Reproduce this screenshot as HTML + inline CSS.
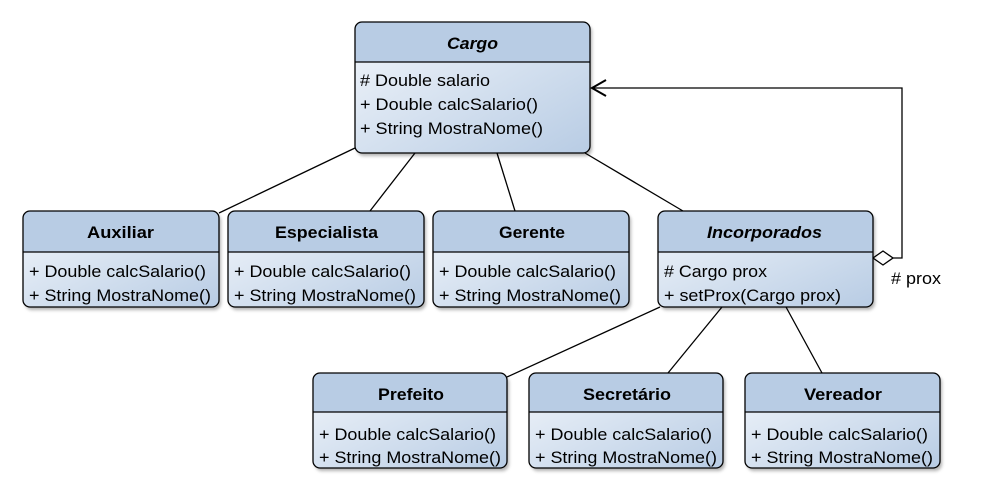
<!DOCTYPE html>
<html><head><meta charset="utf-8"><style>
body{margin:0;background:#fff}
svg{display:block;font-family:"Liberation Sans",Arial,sans-serif}
</style></head><body>
<svg width="1000" height="492" viewBox="0 0 1000 492" xmlns="http://www.w3.org/2000/svg">
<defs>
<linearGradient id="g" x1="0" y1="0" x2="1" y2="1">
<stop offset="0" stop-color="#f2f6fb"/><stop offset="1" stop-color="#b8cce4"/>
</linearGradient>
<filter id="s" x="-5%" y="-5%" width="115%" height="120%"><feDropShadow dx="2" dy="3" stdDeviation="1.5" flood-color="#000" flood-opacity="0.3"/></filter>
</defs>
<g stroke="#000" stroke-width="1.3" fill="none">
<line x1="355" y1="148" x2="219" y2="213"/>
<line x1="415" y1="153" x2="370" y2="211"/>
<line x1="497" y1="153" x2="515" y2="211"/>
<line x1="585" y1="153" x2="683" y2="211"/>
<line x1="660" y1="307" x2="507" y2="377"/>
<line x1="722" y1="307" x2="668" y2="373"/>
<line x1="786" y1="307" x2="822" y2="373"/>
<polyline points="893,258 902,258 902,88 592,88"/>
<polyline points="606,80 592,88 606,96" stroke-width="2"/>
<polygon points="873,258 883,251 893,258 883,265" fill="#fff"/>
</g>
<g font-size="16.5">
<text x="891" y="284" textLength="50" lengthAdjust="spacingAndGlyphs"># prox</text>

<g filter="url(#s)"><rect x="355" y="22" width="235" height="131" rx="7" fill="url(#g)"/></g>
<path d="M355.6,62 V29 a7,7 0 0 1 7,-7 h221 a7,7 0 0 1 7,7 V62 Z" fill="#b8cce4"/>
<rect x="355" y="22" width="235" height="131" rx="7" fill="none" stroke="#000" stroke-width="1.3"/>
<line x1="355" y1="62" x2="590" y2="62" stroke="#000" stroke-width="1.3"/>
<text x="447" y="49" font-weight="bold" font-style="italic" textLength="51" lengthAdjust="spacingAndGlyphs">Cargo</text>
<text x="360" y="86" textLength="130" lengthAdjust="spacingAndGlyphs"># Double salario</text>
<text x="360" y="110" textLength="178" lengthAdjust="spacingAndGlyphs">+ Double calcSalario()</text>
<text x="360" y="134" textLength="183" lengthAdjust="spacingAndGlyphs">+ String MostraNome()</text>

<g filter="url(#s)">
<rect x="23" y="211" width="196" height="96" rx="7" fill="url(#g)"/>
<rect x="228" y="211" width="196" height="96" rx="7" fill="url(#g)"/>
<rect x="433" y="211" width="196" height="96" rx="7" fill="url(#g)"/>
<rect x="658" y="211" width="215" height="96" rx="7" fill="url(#g)"/>
<rect x="313" y="373" width="194" height="95" rx="7" fill="url(#g)"/>
<rect x="529" y="373" width="194" height="95" rx="7" fill="url(#g)"/>
<rect x="745" y="373" width="195" height="95" rx="7" fill="url(#g)"/>
</g>
<g fill="#b8cce4">
<path d="M23.6,252 V218 a7,7 0 0 1 7,-7 h182 a7,7 0 0 1 7,7 V252 Z"/>
<path d="M228.6,252 V218 a7,7 0 0 1 7,-7 h182 a7,7 0 0 1 7,7 V252 Z"/>
<path d="M433.6,252 V218 a7,7 0 0 1 7,-7 h182 a7,7 0 0 1 7,7 V252 Z"/>
<path d="M658.6,252 V218 a7,7 0 0 1 7,-7 h201 a7,7 0 0 1 7,7 V252 Z"/>
<path d="M313.6,412 V380 a7,7 0 0 1 7,-7 h180 a7,7 0 0 1 7,7 V412 Z"/>
<path d="M529.6,412 V380 a7,7 0 0 1 7,-7 h180 a7,7 0 0 1 7,7 V412 Z"/>
<path d="M745.6,412 V380 a7,7 0 0 1 7,-7 h181 a7,7 0 0 1 7,7 V412 Z"/>
</g>
<g fill="none" stroke="#000" stroke-width="1.3">
<rect x="23" y="211" width="196" height="96" rx="7"/><line x1="23" y1="252" x2="219" y2="252"/>
<rect x="228" y="211" width="196" height="96" rx="7"/><line x1="228" y1="252" x2="424" y2="252"/>
<rect x="433" y="211" width="196" height="96" rx="7"/><line x1="433" y1="252" x2="629" y2="252"/>
<rect x="658" y="211" width="215" height="96" rx="7"/><line x1="658" y1="252" x2="873" y2="252"/>
<rect x="313" y="373" width="194" height="95" rx="7"/><line x1="313" y1="412" x2="507" y2="412"/>
<rect x="529" y="373" width="194" height="95" rx="7"/><line x1="529" y1="412" x2="723" y2="412"/>
<rect x="745" y="373" width="195" height="95" rx="7"/><line x1="745" y1="412" x2="940" y2="412"/>
</g>
<g font-weight="bold">
<text x="87" y="238" textLength="67" lengthAdjust="spacingAndGlyphs">Auxiliar</text>
<text x="275" y="238" textLength="103" lengthAdjust="spacingAndGlyphs">Especialista</text>
<text x="499" y="238" textLength="66" lengthAdjust="spacingAndGlyphs">Gerente</text>
<text x="707" y="238" font-style="italic" textLength="115" lengthAdjust="spacingAndGlyphs">Incorporados</text>
<text x="378" y="400" textLength="66" lengthAdjust="spacingAndGlyphs">Prefeito</text>
<text x="583" y="400" textLength="88" lengthAdjust="spacingAndGlyphs">Secretário</text>
<text x="804" y="400" textLength="78" lengthAdjust="spacingAndGlyphs">Vereador</text>
</g>
<text x="29" y="277" textLength="177" lengthAdjust="spacingAndGlyphs">+ Double calcSalario()</text><text x="29" y="301" textLength="182" lengthAdjust="spacingAndGlyphs">+ String MostraNome()</text>
<text x="234" y="277" textLength="177" lengthAdjust="spacingAndGlyphs">+ Double calcSalario()</text><text x="234" y="301" textLength="182" lengthAdjust="spacingAndGlyphs">+ String MostraNome()</text>
<text x="439" y="277" textLength="177" lengthAdjust="spacingAndGlyphs">+ Double calcSalario()</text><text x="439" y="301" textLength="182" lengthAdjust="spacingAndGlyphs">+ String MostraNome()</text>
<text x="664" y="277" textLength="103" lengthAdjust="spacingAndGlyphs"># Cargo prox</text><text x="664" y="301" textLength="177" lengthAdjust="spacingAndGlyphs">+ setProx(Cargo prox)</text>
<text x="319" y="440" textLength="177" lengthAdjust="spacingAndGlyphs">+ Double calcSalario()</text><text x="319" y="463" textLength="182" lengthAdjust="spacingAndGlyphs">+ String MostraNome()</text>
<text x="535" y="440" textLength="177" lengthAdjust="spacingAndGlyphs">+ Double calcSalario()</text><text x="535" y="463" textLength="182" lengthAdjust="spacingAndGlyphs">+ String MostraNome()</text>
<text x="751" y="440" textLength="177" lengthAdjust="spacingAndGlyphs">+ Double calcSalario()</text><text x="751" y="463" textLength="182" lengthAdjust="spacingAndGlyphs">+ String MostraNome()</text>
</g>
</svg>
</body></html>
